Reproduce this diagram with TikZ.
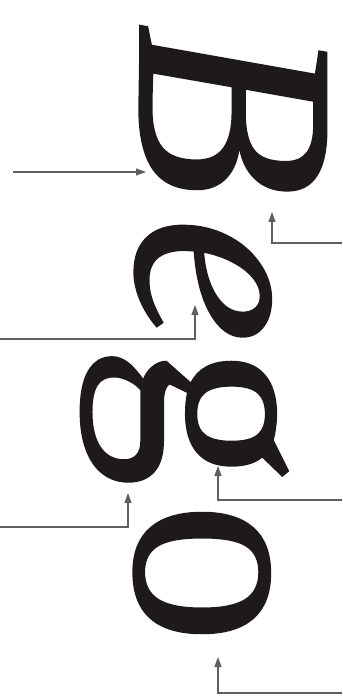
\documentclass[tikz,border=0pt]{standalone}
\usepackage{fontspec}
\setmainfont{Liberation Serif}
\newfontfamily\lettersfont[FakeBold=0.6]{Liberation Serif}
\usepackage{xcolor}
\definecolor{ink}{RGB}{30,26,27}
\definecolor{pointer}{RGB}{95,95,95}
\usetikzlibrary{arrows.meta}
\tikzset{
  glyph/.style={rotate=-90,anchor=base,inner sep=0pt,text=ink,
                text height=188pt,text depth=66pt,
                font=\fontsize{285}{285}\lettersfont\itshape},
  glyph up/.style={glyph,font=\fontsize{285}{285}\lettersfont},
  arrow/.style={-{Triangle[length=10pt,width=7pt]},line width=1.1pt,pointer},
}
\begin{document}
\begin{tikzpicture}[x=1pt,y=-1pt]
    \useasboundingbox (0,0) rectangle (342,700);

    % Letters
    \node[glyph] (B) at (140,110) {B};
    \node[glyph] (e) at (137,280) {e};
    \node[glyph up] (g) at (142,416) {g};
    \node[glyph up] (o) at (136,573) {o};

    % Pointer ends
    \coordinate (s1) at (13,172);
    \coordinate (t1) at (146,172);
    \coordinate (s2) at (342,243);
    \coordinate (t2) at (272,212);
    \coordinate (s3) at (0,339);
    \coordinate (t3) at (195,305);
    \coordinate (s4) at (0,527);
    \coordinate (t4) at (128,493);
    \coordinate (s5) at (342,500);
    \coordinate (t5) at (218,466);
    \coordinate (s6) at (342,693);
    \coordinate (t6) at (218,657);

    \draw[arrow] (s1) -- (t1);
    \draw[arrow] (s2) -| (t2);
    \draw[arrow] (s3) -| (t3);
    \draw[arrow] (s4) -| (t4);
    \draw[arrow] (s5) -| (t5);
    \draw[arrow] (s6) -| (t6);

  \end{tikzpicture}
\end{document}
